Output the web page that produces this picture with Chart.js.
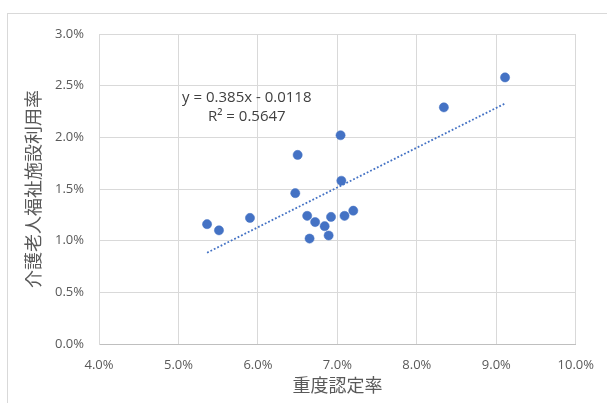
<!DOCTYPE html>
<html>
<head>
<meta charset="utf-8">
<script src="https://cdn.jsdelivr.net/npm/chart.js@4.4.1/dist/chart.umd.min.js"></script>
<style>
  html, body { margin: 0; padding: 0; background: #fff; }
  #wrap { position: relative; width: 607px; height: 403px; overflow: hidden; }
  /* excel style chart frame, runs off the right/bottom edge */
  #frame { position: absolute; left: 7px; top: 13px; width: 700px; height: 500px; border: 1px solid #d9d9d9; box-sizing: border-box; }
  canvas { position: absolute; left: 0; top: 0; }
</style>
</head>
<body>
<div id="wrap">
  <div id="frame"></div>
  <canvas id="chart" width="607" height="403"></canvas>
</div>
<script>
/* data, in percent */
const severeRate   = [5.36, 5.51, 5.90, 6.47, 6.50, 6.62, 6.65, 6.72, 6.84, 6.89, 6.92, 7.04, 7.05, 7.09, 7.20, 8.34, 9.11];
const facilityRate = [1.16, 1.10, 1.22, 1.46, 1.83, 1.24, 1.02, 1.18, 1.14, 1.05, 1.23, 2.02, 1.58, 1.24, 1.29, 2.29, 2.58];
const xTicks = [4, 5, 6, 7, 8, 9, 10];
const yTicks = [0, 0.5, 1, 1.5, 2, 2.5, 3];
const xTitle = '重度認定率';
const yTitle = '介護老人福祉施設利用率';

/* linear trendline as shown in the picture (fractions) */
const trendSlope = 0.385;
const trendIntercept = -0.0118;
const trendText = ['y = 0.385x - 0.0118', 'R² = 0.5647'];
const trendTextAt = { x: 5.86, y: 2.38 };

const blue = '#4472C4';
const xMin = Math.min(...severeRate), xMax = Math.max(...severeRate);
const trendLine = [xMin, xMax].map(x => ({ x, y: (trendSlope * x / 100 + trendIntercept) * 100 }));
const points = severeRate.map((x, i) => ({ x, y: facilityRate[i] }));

const pct = v => v.toFixed(1) + '%';

// equation label, placed through the scales
const eqLabel = {
  id: 'eqLabel',
  afterDatasetsDraw(chart){
    const {ctx, scales} = chart;
    const cx = scales.x.getPixelForValue(trendTextAt.x);
    const cy = scales.y.getPixelForValue(trendTextAt.y);
    ctx.save();
    ctx.font = '15px "Open Sans"';
    ctx.fillStyle = '#404040';
    ctx.textAlign = 'center';
    ctx.textBaseline = 'middle';
    trendText.forEach((t, i) => ctx.fillText(t, cx, cy + i * 19));
    ctx.restore();
  }
};

const tickFont = { family: '"Open Sans"', size: 13 };
const titleFont = { family: '"Noto Sans CJK JP"', size: 18 };

new Chart(document.getElementById('chart'), {
  type: 'scatter',
  data: {
    datasets: [
      {
        data: trendLine, showLine: true, pointRadius: 0,
        borderColor: blue, borderWidth: 1.8, borderDash: [1.8, 2],
        borderCapStyle: 'butt', fill: false
      },
      {
        data: points, pointRadius: 4.6, pointHoverRadius: 4.6,
        backgroundColor: blue, borderColor: blue, borderWidth: 0.5
      }
    ]
  },
  options: {
    responsive: false,
    animation: false,
    layout: { padding: { left: 0, right: 30, top: 34, bottom: 0 } },
    plugins: { legend: { display: false }, tooltip: { enabled: false } },
    scales: {
      x: {
        type: 'linear', min: 4, max: 10,
        afterBuildTicks: s => { s.ticks = xTicks.map(v => ({ value: v })); },
        afterFit: s => { s.height = 59; },
        grid: { color: '#d9d9d9', drawTicks: false },
        border: { color: '#bfbfbf' },
        ticks: { callback: pct, color: '#595959', font: tickFont, padding: 13, maxRotation: 0 },
        title: { display: true, text: xTitle, color: '#595959', font: titleFont, padding: { top: 0, bottom: 7 } }
      },
      y: {
        type: 'linear', min: 0, max: 3,
        afterBuildTicks: s => { s.ticks = yTicks.map(v => ({ value: v })); },
        afterFit: s => { s.width = 99; },
        grid: { color: '#d9d9d9', drawTicks: false },
        border: { color: '#d9d9d9' },
        ticks: { callback: pct, color: '#595959', font: tickFont, padding: 15 },
        title: { display: true, text: yTitle, color: '#595959', font: titleFont, padding: { top: 22, bottom: 0 } }
      }
    }
  },
  plugins: [eqLabel]
});
</script>
</body>
</html>
